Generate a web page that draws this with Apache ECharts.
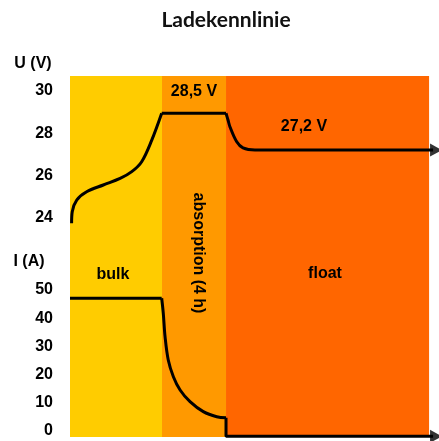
<!DOCTYPE html>
<html>
<head>
<meta charset="utf-8">
<script src="https://cdn.jsdelivr.net/npm/echarts@6/dist/echarts.min.js"></script>
<style>
  html, body { margin: 0; padding: 0; background: #fff; }
  #chart { width: 439px; height: 441px; }
</style>
</head>
<body>
<div id="chart"></div>
<script>
// Zeit in Stunden (x), Spannung in V, Strom in A
// Spannung: bulk-Anstieg, absorption-Plateau, Abfall auf float
const uRiseTime = [0.1, 0.14, 0.42, 1.04, 2.08, 3.13, 3.86, 4.48, 5.11, 5.73]
const uRiseVolt = [23.75, 24.3, 24.85, 25.24, 25.56, 25.87, 26.19, 26.66, 27.68, 28.95]
const uHoldTime = [5.73, 9.75]
const uHoldVolt = [28.95, 28.95]
const uDropTime = [9.75, 9.875, 10.0, 10.42, 10.81, 11.56, 16, 22.69]
const uDropVolt = [28.95, 28.63, 28.3, 27.6, 27.31, 27.21, 27.21, 27.21]

// Strom: konstant, Abfall, Erhaltung
const iHoldTime = [0, 5.73]
const iHoldAmp = [47.06, 47.06]
const iDropTime = [5.73, 5.83, 5.94, 6.14, 6.46, 6.88, 7.5, 8.33, 9.17, 9.75]
const iDropAmp = [47.06, 41.73, 33.44, 25.18, 19.26, 14.54, 10.39, 6.85, 5.07, 4.72]
const iTailTime = [9.75, 9.75, 22.69]
const iTailAmp = [4.72, -1.88, -1.88]

const uTicks = [24, 26, 28, 30]
const iTicks = [0, 10, 20, 30, 40, 50]

// Phasen in Stunden
const phaseStart = [0, 5.75, 9.75]
const phaseEnd = [5.75, 9.75, 22.44]
const phaseColors = ['#FFCC00', '#FF9900', '#FF6600']

const chart = echarts.init(document.getElementById('chart'))

const zip = (xs, ys) => xs.map((x, i) => [x, ys[i]])
const bands = phaseStart.map((s, i) => [
  { xAxis: s, itemStyle: { color: phaseColors[i], opacity: 1 } },
  { xAxis: phaseEnd[i] },
])

const labelStyle = { color: '#000', fontFamily: 'Liberation Sans', fontWeight: 'bold', fontSize: 16 }
const lineStyle = { color: '#000', width: 3 }
const boldFont = 'bold 16px "Liberation Sans"'

// eine Linie je Abschnitt, damit die Ecken scharf bleiben
function seg(name, grid, xs, ys, smooth, extra) {
  return {
    name, type: 'line', xAxisIndex: grid, yAxisIndex: grid,
    data: zip(xs, ys), smooth, symbol: 'none', clip: false, lineStyle,
    ...extra,
  }
}

function arrow(grid, y) {
  return {
    type: 'scatter', xAxisIndex: grid, yAxisIndex: grid, clip: false,
    data: [[22.875, y]],
    symbol: 'triangle', symbolSize: [13, 12], symbolRotate: -90,
    itemStyle: { color: '#000' },
  }
}

function text(str, x, y, extra) {
  return {
    type: 'text', x, y, z: 10, ...extra,
    style: { text: str, fill: '#000', font: boldFont, textAlign: 'center', textVerticalAlign: 'middle' },
  }
}

const option = {
  animation: false,
  graphic: [
    { type: 'text', x: 226, y: 20, style: { text: 'Ladekennlinie', fill: '#111', font: 'bold 21px Lato', textAlign: 'center', textVerticalAlign: 'middle' } },
    text('U (V)', 33, 64),
    text('I (A)', 29, 262),
    text('28,5 V', 194, 92),
    text('27,2 V', 304, 127),
    text('bulk', 113, 275),
    text('float', 325, 274),
    text('absorption (4 h)', 198, 253, { rotation: -Math.PI / 2 }),
  ],
  grid: [
    { left: 70, top: 76, width: 369, height: 164 },
    { left: 70, top: 240, width: 369, height: 197 },
  ],
  xAxis: [
    { gridIndex: 0, type: 'value', min: 0, max: 23.06, show: false },
    { gridIndex: 1, type: 'value', min: 0, max: 23.06, show: false },
  ],
  yAxis: [
    {
      gridIndex: 0, type: 'value', min: 22.962, max: 30.709,
      axisLine: { show: false }, axisTick: { show: false }, splitLine: { show: false },
      axisLabel: { ...labelStyle, margin: 17, customValues: uTicks },
    },
    {
      gridIndex: 1, type: 'value', min: -2.13, max: 67.73,
      axisLine: { show: false }, axisTick: { show: false }, splitLine: { show: false },
      axisLabel: { ...labelStyle, margin: 17, customValues: iTicks },
    },
  ],
  series: [
    seg('U', 0, uRiseTime, uRiseVolt, 0.35, { markArea: { silent: true, data: bands } }),
    seg('U', 0, uHoldTime, uHoldVolt, false),
    seg('U', 0, uDropTime, uDropVolt, 0.35),
    seg('I', 1, iHoldTime, iHoldAmp, false, { markArea: { silent: true, data: bands } }),
    seg('I', 1, iDropTime, iDropAmp, 0.35),
    seg('I', 1, iTailTime, iTailAmp, false),
    arrow(0, uDropVolt[uDropVolt.length - 1]),
    arrow(1, iTailAmp[iTailAmp.length - 1]),
  ],
}

chart.setOption(option)
</script>
</body>
</html>
